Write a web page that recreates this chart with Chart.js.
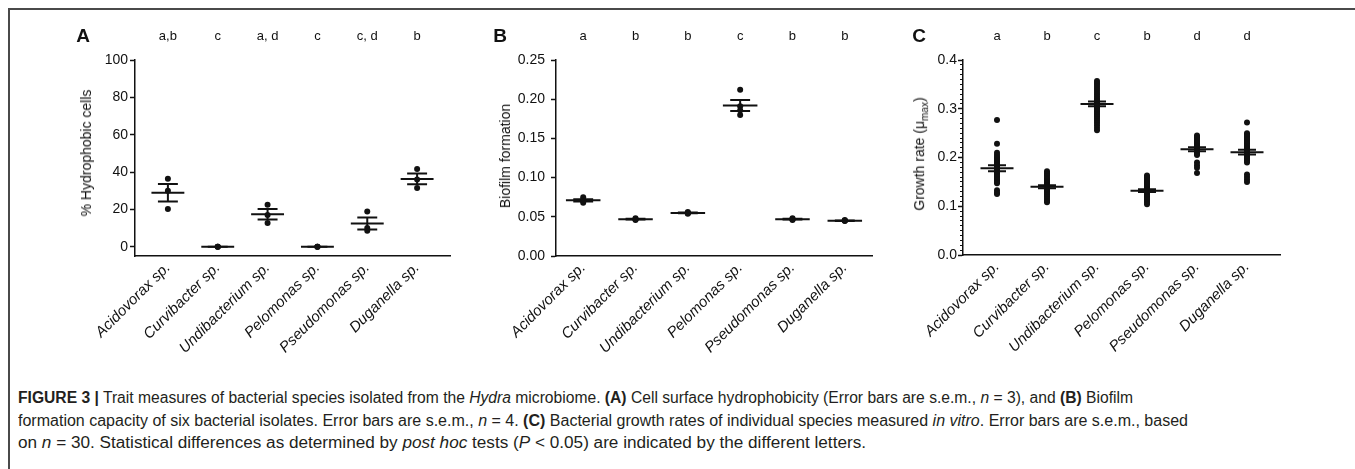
<!DOCTYPE html>
<html><head><meta charset="utf-8">
<script src="https://cdn.jsdelivr.net/npm/chart.js@4.4.0/dist/chart.umd.min.js"></script>
<style>
body{margin:0;background:#fff;width:1355px;height:469px;overflow:hidden;position:relative;font-family:"Liberation Sans",Arial,sans-serif;color:#111}
canvas{position:absolute;top:0}
.frameTop{position:absolute;left:8px;top:8px;width:1347px;height:2px;background:#4a4a4a}
.frameLeft{position:absolute;left:8px;top:8px;width:1.5px;height:461px;background:#4a4a4a}
.plab{position:absolute;font-weight:bold;font-size:19px;transform:translate(-50%,-50%);line-height:1}
.ytitle{position:absolute;font-size:14px;white-space:nowrap;transform:translate(-50%,-50%) rotate(-90deg);line-height:1}
.cap{position:absolute;left:18px;font-size:16px;line-height:18px;white-space:nowrap;transform-origin:0 0;color:#231f20}
</style></head>
<body>
<canvas id="cA" width="440" height="380" style="left:20px"></canvas>
<canvas id="cB" width="420" height="380" style="left:460px"></canvas>
<canvas id="cC" width="420" height="380" style="left:880px"></canvas>
<div class="frameTop"></div><div class="frameLeft"></div>
<div class="plab" style="left:83px;top:35px">A</div>
<div class="plab" style="left:500px;top:35px">B</div>
<div class="plab" style="left:919px;top:35px">C</div>
<div class="ytitle" style="left:86px;top:153px">% Hydrophobic cells</div>
<div class="ytitle" style="left:505px;top:156px">Biofilm formation</div>
<div class="ytitle" style="left:921px;top:154px">Growth rate (μ<sub style="font-size:10px">max</sub>)</div>
<div class="cap" data-w="1115" style="top:389px"><b>FIGURE 3 |</b> Trait measures of bacterial species isolated from the <i>Hydra</i> microbiome. <b>(A)</b> Cell surface hydrophobicity (Error bars are s.e.m., <i>n</i> = 3), and <b>(B)</b> Biofilm</div>
<div class="cap" data-w="1170" style="top:412px">formation capacity of six bacterial isolates. Error bars are s.e.m., <i>n</i> = 4. <b>(C)</b> Bacterial growth rates of individual species measured <i>in vitro</i>. Error bars are s.e.m., based</div>
<div class="cap" data-w="848" style="top:434px">on <i>n</i> = 30. Statistical differences as determined by <i>post hoc</i> tests (<i>P</i> &lt; 0.05) are indicated by the different letters.</div>
<script>
// ---------- data ----------
const categories = ["Acidovorax sp.", "Curvibacter sp.", "Undibacterium sp.", "Pelomonas sp.", "Pseudomonas sp.", "Duganella sp."];

const lettersA = ["a,b", "c", "a, d", "c", "c, d", "b"];
const lettersB = ["a", "b", "b", "c", "b", "b"];
const lettersC = ["a", "b", "c", "b", "d", "d"];

// A: % hydrophobic cells (n = 3)
const hydroPoints = [[36.4, 30.0, 20.2], [0, 0, 0], [22.5, 17.0, 12.7], [0, 0, 0], [18.8, 10.0, 8.5], [41.6, 36.0, 31.4]];
const hydroMean = [28.9, 0, 17.4, 0, 12.4, 36.3];
const hydroSem = [4.7, 0, 2.8, 0, 3.2, 2.9];
const hydroTicks = [0, 20, 40, 60, 80, 100];

// B: biofilm formation (n = 4)
const biofilmPoints = [[0.075, 0.071, 0.070, 0.068], [0.048, 0.047, 0.047, 0.046], [0.056, 0.055, 0.055, 0.054],
                       [0.212, 0.191, 0.186, 0.180], [0.048, 0.047, 0.047, 0.046], [0.046, 0.045, 0.045, 0.045]];
const biofilmMean = [0.071, 0.047, 0.055, 0.192, 0.047, 0.045];
const biofilmSem = [0.0015, 0.0005, 0.0005, 0.007, 0.0005, 0.0003];
const biofilmTicks = [0, 0.05, 0.10, 0.15, 0.20, 0.25];

// C: growth rate (n = 30)
const growthPoints = [
  [0.277,0.228,0.210,0.205,0.201,0.198,0.195,0.192,0.190,0.187,0.185,0.183,0.181,0.179,0.177,0.175,0.173,0.171,0.169,0.167,0.165,0.162,0.159,0.156,0.153,0.150,0.147,0.133,0.128,0.125],
  [0.172,0.168,0.165,0.162,0.158,0.155,0.152,0.150,0.148,0.146,0.144,0.143,0.142,0.141,0.140,0.139,0.138,0.137,0.136,0.135,0.134,0.132,0.130,0.128,0.125,0.122,0.119,0.115,0.111,0.108],
  [0.357,0.353,0.349,0.345,0.341,0.337,0.333,0.329,0.325,0.321,0.318,0.315,0.312,0.310,0.308,0.306,0.304,0.301,0.298,0.295,0.292,0.289,0.286,0.283,0.279,0.275,0.271,0.266,0.261,0.256],
  [0.163,0.160,0.157,0.154,0.151,0.148,0.146,0.144,0.142,0.140,0.138,0.136,0.135,0.134,0.133,0.132,0.131,0.130,0.129,0.128,0.127,0.126,0.124,0.122,0.120,0.118,0.115,0.112,0.108,0.104],
  [0.245,0.242,0.239,0.236,0.233,0.231,0.229,0.227,0.225,0.224,0.223,0.222,0.221,0.220,0.219,0.218,0.217,0.216,0.215,0.214,0.213,0.212,0.211,0.210,0.208,0.205,0.190,0.184,0.179,0.168],
  [0.272,0.250,0.247,0.244,0.241,0.238,0.235,0.232,0.229,0.226,0.223,0.220,0.218,0.216,0.214,0.212,0.210,0.208,0.206,0.204,0.202,0.200,0.198,0.196,0.193,0.190,0.165,0.160,0.155,0.150]
];
const growthMean = [0.178, 0.140, 0.310, 0.132, 0.217, 0.211];
const growthSem = [0.006, 0.003, 0.005, 0.003, 0.004, 0.005];
const growthTicks = [0, 0.1, 0.2, 0.3, 0.4];

// ---------- chart builder ----------
const INK = '#111';
function makePanel(o) {
  const pts = [];
  o.points.forEach((arr, i) => arr.forEach(v => pts.push({x: i, y: v})));
  const meanSeg = [], errSeg = [];
  o.mean.forEach((m, i) => {
    const s = o.sem[i];
    meanSeg.push({x: i - 0.33, y: m}, {x: i + 0.33, y: m}, {x: i, y: null});
    errSeg.push({x: i, y: m - s}, {x: i, y: m + s}, {x: i, y: null});
    errSeg.push({x: i - o.cap, y: m + s}, {x: i + o.cap, y: m + s}, {x: i, y: null});
    errSeg.push({x: i - o.cap, y: m - s}, {x: i + o.cap, y: m - s}, {x: i, y: null});
  });
  const catTicks = categories.map((c, i) => ({value: i}));
  const scales = {
    x: {
      type: 'linear', position: 'bottom', min: o.xMin, max: o.xMax,
      afterBuildTicks: s => { s.ticks = catTicks.map(t => ({value: t.value})); },
      afterFit: s => { s.height = o.bottomH; },
      ticks: {autoSkip: false, minRotation: 45, maxRotation: 45, padding: 3, color: INK,
              font: {family: 'Liberation Sans', size: 15, style: 'italic'},
              callback: (v, idx) => categories[idx]},
      grid: {display: true, drawOnChartArea: false, drawTicks: false},
      border: {display: true, color: INK, width: 1.5}
    },
    xTop: {
      type: 'linear', position: 'top', min: o.xMin, max: o.xMax,
      afterBuildTicks: s => { s.ticks = catTicks.map(t => ({value: t.value})); },
      afterFit: s => { s.height = 60; },
      ticks: {autoSkip: false, maxRotation: 0, padding: 16, color: INK,
              font: {family: 'Liberation Sans', size: 13},
              callback: (v, idx) => o.letters[idx]},
      grid: {display: false, drawTicks: false},
      border: {display: false}
    },
    y: {
      type: 'linear', position: 'left', min: o.yMin, max: o.yMax, weight: 5,
      afterBuildTicks: s => { s.ticks = o.yTicks.map(v => ({value: v})); },
      afterFit: s => { s.width = o.yAxisW; },
      ticks: {padding: o.yPad, color: INK, font: {family: 'Liberation Sans', size: 14},
              callback: v => o.fmt(v)},
      grid: {display: true, drawOnChartArea: false, drawTicks: true, tickLength: 5, tickWidth: 1.5, tickColor: INK},
      border: {display: true, color: INK, width: 1.5}
    }
  };
  if (o.minor) {
    scales.yMinor = {
      type: 'linear', position: 'left', min: o.yMin, max: o.yMax, weight: 0,
      afterBuildTicks: s => { s.ticks = o.minor.map(v => ({value: v})); },
      afterFit: s => { s.width = 0; },
      ticks: {display: false},
      grid: {display: true, drawOnChartArea: false, drawTicks: true, tickLength: 3, tickWidth: 1, tickColor: INK},
      border: {display: false}
    };
  }
  return new Chart(document.getElementById(o.id), {
    type: 'scatter',
    data: {datasets: [
      {data: meanSeg, showLine: true, spanGaps: false, borderColor: INK, borderWidth: 2, pointRadius: 0, order: 2},
      {data: errSeg, showLine: true, spanGaps: false, borderColor: INK, borderWidth: 2, pointRadius: 0, order: 2},
      {data: pts, pointRadius: o.r, backgroundColor: INK, borderWidth: 0, pointBorderWidth: 0, order: 1}
    ]},
    options: {
      responsive: false, animation: false, events: [],
      layout: {padding: {left: 0, right: o.padR, top: 0, bottom: 0}},
      plugins: {legend: {display: false}, tooltip: {enabled: false}},
      scales
    }
  });
}

const minorC = [];
for (let k = 0; k <= 40; k++) minorC.push(+(k * 0.01).toFixed(2));

makePanel({id: 'cA', points: hydroPoints, mean: hydroMean, sem: hydroSem, letters: lettersA,
  yMin: -5, yMax: 100, yTicks: hydroTicks, fmt: v => String(v), xMin: -0.66, xMax: 5.66,
  yAxisW: 115, padR: 10, bottomH: 124, yPad: 2, cap: 0.2, r: 3});
makePanel({id: 'cB', points: biofilmPoints, mean: biofilmMean, sem: biofilmSem, letters: lettersB,
  yMin: 0, yMax: 0.25, yTicks: biofilmTicks, fmt: v => v.toFixed(2), xMin: -0.52, xMax: 5.52,
  yAxisW: 96, padR: 8, bottomH: 124, yPad: 6, cap: 0.19, r: 3});
makePanel({id: 'cC', points: growthPoints, mean: growthMean, sem: growthSem, letters: lettersC,
  yMin: 0, yMax: 0.4, yTicks: growthTicks, fmt: v => v.toFixed(1), xMin: -0.68, xMax: 5.66,
  yAxisW: 83, padR: 20, bottomH: 125, yPad: 1, cap: 0.18, r: 3, minor: minorC});

// fit each caption line to the width it spans in the figure
document.querySelectorAll('.cap').forEach(el => {
  const w = el.getBoundingClientRect().width;
  el.style.transform = 'scaleX(' + (+el.dataset.w / w) + ')';
});
</script>
</body></html>
